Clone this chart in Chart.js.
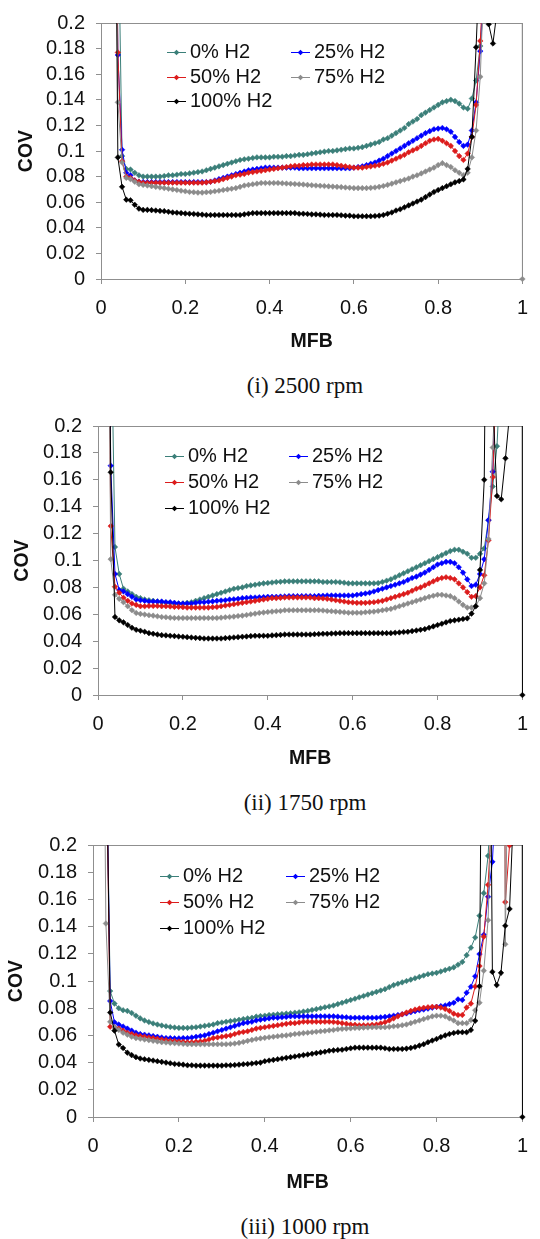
<!DOCTYPE html>
<html>
<head>
<meta charset="utf-8">
<script src="https://cdn.jsdelivr.net/npm/chart.js@4.4.1/dist/chart.umd.min.js"></script>
<style>
  body { margin: 0; background: #fff; }
  #page { position: relative; width: 540px; height: 1239px; overflow: hidden; background: #fff; }
  canvas { position: absolute; left: 0; }
  .caption {
    position: absolute; left: 185px; width: 240px; text-align: center;
    font-family: "Liberation Serif", "Times New Roman", serif; font-size: 23px;
    line-height: 26px; color: #111;
  }
</style>
</head>
<body>
<div id="page">
  <canvas id="c2500"></canvas>
  <div class="caption" style="top:373px">(i) 2500 rpm</div>
  <canvas id="c1750"></canvas>
  <div class="caption" style="top:790px">(ii) 1750 rpm</div>
  <canvas id="c1000"></canvas>
  <div class="caption" style="top:1214px">(iii) 1000 rpm</div>
</div>
<script>
// MFB positions of the samples (one every 0.01)
const mfb = [0.02, 0.03, 0.04, 0.05, 0.06, 0.07, 0.08, 0.09,
  0.10, 0.11, 0.12, 0.13, 0.14, 0.15, 0.16, 0.17, 0.18, 0.19,
  0.20, 0.21, 0.22, 0.23, 0.24, 0.25, 0.26, 0.27, 0.28, 0.29,
  0.30, 0.31, 0.32, 0.33, 0.34, 0.35, 0.36, 0.37, 0.38, 0.39,
  0.40, 0.41, 0.42, 0.43, 0.44, 0.45, 0.46, 0.47, 0.48, 0.49,
  0.50, 0.51, 0.52, 0.53, 0.54, 0.55, 0.56, 0.57, 0.58, 0.59,
  0.60, 0.61, 0.62, 0.63, 0.64, 0.65, 0.66, 0.67, 0.68, 0.69,
  0.70, 0.71, 0.72, 0.73, 0.74, 0.75, 0.76, 0.77, 0.78, 0.79,
  0.80, 0.81, 0.82, 0.83, 0.84, 0.85, 0.86, 0.87, 0.88, 0.89,
  0.90, 0.91, 0.92, 0.93, 0.94, 0.95, 0.96, 0.97, 0.98, 0.99,
  1.00];

const seriesLabels = ['0% H2', '25% H2', '50% H2', '75% H2', '100% H2'];
const seriesColors = ['#3b7f79', '#0000ff', '#dc1c1c', '#8c8c8c', '#000000'];

const xTicks = [0, 0.2, 0.4, 0.6, 0.8, 1];
const xTickLabels = ['0', '0.2', '0.4', '0.6', '0.8', '1'];
const yTicks = [0, 0.02, 0.04, 0.06, 0.08, 0.1, 0.12, 0.14, 0.16, 0.18, 0.2];
const yTickLabels = ['0', '0.02', '0.04', '0.06', '0.08', '0.1', '0.12', '0.14', '0.16', '0.18', '0.2'];

// (i) 2500 rpm  (values above 0.2 run off the top of the plot)
const cov2500_h0 = [null, null, 0.3, 0.096, 0.086, 0.0855, 0.083, 0.081,
  0.080, 0.080, 0.080, 0.080, 0.080, 0.0805, 0.081, 0.081, 0.0815, 0.082,
  0.082, 0.0825, 0.083, 0.0835, 0.084, 0.085, 0.086, 0.087, 0.088, 0.089,
  0.090, 0.091, 0.092, 0.093, 0.0935, 0.094, 0.0945, 0.095, 0.095, 0.095,
  0.095, 0.0955, 0.0955, 0.0955, 0.096, 0.096, 0.0965, 0.097, 0.097, 0.0975,
  0.098, 0.0985, 0.099, 0.0995, 0.100, 0.100, 0.1005, 0.101, 0.1015, 0.102,
  0.102, 0.1025, 0.103, 0.104, 0.105, 0.106, 0.107, 0.109, 0.110, 0.112,
  0.114, 0.116, 0.118, 0.121, 0.123, 0.125, 0.128, 0.130, 0.132, 0.134,
  0.136, 0.138, 0.139, 0.140, 0.139, 0.137, 0.134, 0.133, 0.141, 0.155,
  0.182, 0.22];
const cov2500_h25 = [null, 0.5, 0.175, 0.101, 0.083, 0.081, 0.077, 0.076,
  0.0757, 0.0757, 0.0757, 0.0757, 0.0757, 0.0757, 0.0757, 0.0757, 0.0757, 0.0757,
  0.0757, 0.0757, 0.0757, 0.0757, 0.0757, 0.0757, 0.076, 0.077, 0.078, 0.079,
  0.080, 0.081, 0.082, 0.083, 0.084, 0.085, 0.0855, 0.086, 0.0865, 0.087,
  0.087, 0.087, 0.087, 0.087, 0.087, 0.087, 0.087, 0.0865, 0.0865, 0.0865,
  0.0865, 0.0865, 0.0865, 0.0865, 0.0865, 0.0865, 0.0865, 0.0865, 0.0865, 0.0865,
  0.087, 0.0875, 0.088, 0.089, 0.090, 0.091, 0.0925, 0.094, 0.096, 0.098,
  0.100, 0.102, 0.104, 0.106, 0.108, 0.110, 0.112, 0.114, 0.1155, 0.117,
  0.1175, 0.118, 0.117, 0.115, 0.111, 0.107, 0.104, 0.105, 0.116, 0.138,
  0.178, 0.25];
const cov2500_h50 = [null, 0.5, 0.177, 0.092, 0.080, 0.079, 0.077, 0.076,
  0.0752, 0.0752, 0.0752, 0.0752, 0.0752, 0.0752, 0.0752, 0.0752, 0.0752, 0.0752,
  0.0752, 0.0752, 0.0752, 0.0752, 0.0752, 0.0755, 0.076, 0.0765, 0.077, 0.078,
  0.079, 0.080, 0.081, 0.0815, 0.082, 0.083, 0.0835, 0.084, 0.0845, 0.085,
  0.0855, 0.086, 0.0865, 0.087, 0.0875, 0.088, 0.0885, 0.0885, 0.089, 0.089,
  0.0895, 0.0895, 0.0895, 0.0895, 0.0895, 0.0895, 0.089, 0.0885, 0.088, 0.0875,
  0.087, 0.087, 0.087, 0.0875, 0.088, 0.0885, 0.089, 0.090, 0.091, 0.0925,
  0.094, 0.0955, 0.097, 0.099, 0.1005, 0.102, 0.104, 0.106, 0.108, 0.109,
  0.1095, 0.108, 0.106, 0.104, 0.100, 0.096, 0.093, 0.098, 0.111, 0.136,
  0.186, 0.25];
const cov2500_h75 = [null, 0.5, 0.138, 0.091, 0.079, 0.078, 0.076, 0.074,
  0.0735, 0.073, 0.0725, 0.072, 0.0715, 0.071, 0.0705, 0.070, 0.0695, 0.069,
  0.0685, 0.068, 0.0678, 0.0675, 0.0675, 0.0678, 0.068, 0.0685, 0.069, 0.0695,
  0.070, 0.0705, 0.071, 0.072, 0.073, 0.0735, 0.074, 0.0745, 0.075, 0.075,
  0.075, 0.075, 0.075, 0.0748, 0.0746, 0.0744, 0.0742, 0.074, 0.0738, 0.0735,
  0.0733, 0.073, 0.0728, 0.0726, 0.0724, 0.0722, 0.072, 0.0718, 0.0715, 0.0713,
  0.071, 0.071, 0.071, 0.071, 0.0712, 0.0715, 0.072, 0.0727, 0.0735, 0.0745,
  0.0755, 0.0765, 0.0775, 0.0785, 0.080, 0.081, 0.0825, 0.084, 0.0855, 0.087,
  0.089, 0.0905, 0.089, 0.0875, 0.085, 0.083, 0.081, 0.083, 0.095, 0.116,
  0.158, 0.25, null, null, null, null, null, null, null, 5,
  0];
const cov2500_h100 = [null, 0.5, 0.095, 0.072, 0.062, 0.0615, 0.058, 0.055,
  0.054, 0.054, 0.0538, 0.0535, 0.0532, 0.053, 0.0525, 0.052, 0.0518, 0.0515,
  0.0512, 0.051, 0.0508, 0.0505, 0.0503, 0.050, 0.050, 0.050, 0.050, 0.050,
  0.050, 0.050, 0.050, 0.050, 0.0505, 0.051, 0.0515, 0.0515, 0.0515, 0.0515,
  0.0515, 0.0515, 0.0515, 0.0515, 0.0515, 0.0515, 0.0515, 0.051, 0.051, 0.0508,
  0.0505, 0.0505, 0.0503, 0.050, 0.050, 0.050, 0.050, 0.0498, 0.0495, 0.0495,
  0.049, 0.049, 0.049, 0.049, 0.049, 0.0492, 0.0495, 0.050, 0.051, 0.052,
  0.0535, 0.0545, 0.056, 0.0575, 0.059, 0.0605, 0.062, 0.064, 0.066, 0.068,
  0.0695, 0.071, 0.0725, 0.074, 0.0755, 0.0765, 0.0778, 0.086, 0.111, 0.181,
  0.26, 0.5, 0.199, 0.184, 0.21, 0.5];

// (ii) 1750 rpm
const cov1750_h0 = [null, 0.3, 0.110, 0.090, 0.079, 0.077, 0.075, 0.073,
  0.072, 0.071, 0.0705, 0.070, 0.0695, 0.069, 0.0688, 0.0685, 0.068, 0.068,
  0.068, 0.0685, 0.069, 0.070, 0.071, 0.072, 0.073, 0.074, 0.075, 0.076,
  0.077, 0.078, 0.079, 0.0795, 0.080, 0.081, 0.0815, 0.082, 0.0825, 0.083,
  0.0833, 0.0836, 0.084, 0.0842, 0.0845, 0.0845, 0.0845, 0.0845, 0.0845, 0.0845,
  0.0845, 0.0845, 0.0845, 0.084, 0.084, 0.084, 0.084, 0.0838, 0.0835, 0.083,
  0.083, 0.083, 0.083, 0.083, 0.083, 0.083, 0.0832, 0.084, 0.085, 0.086,
  0.0875, 0.089, 0.0905, 0.092, 0.0935, 0.095, 0.0965, 0.098, 0.0995, 0.101,
  0.1025, 0.104, 0.1055, 0.107, 0.108, 0.108, 0.1065, 0.105, 0.102, 0.102,
  0.105, 0.109, 0.13, 0.155, 0.185, 0.25];
const cov1750_h25 = [0.5, 0.1705, 0.090, 0.078, 0.077, 0.075, 0.073, 0.071,
  0.0705, 0.070, 0.0695, 0.0695, 0.0695, 0.0695, 0.069, 0.069, 0.0685, 0.068,
  0.068, 0.068, 0.068, 0.0685, 0.069, 0.069, 0.0693, 0.0696, 0.070, 0.0703,
  0.0705, 0.071, 0.0712, 0.0715, 0.072, 0.0722, 0.0725, 0.0725, 0.0727, 0.0728,
  0.073, 0.073, 0.073, 0.0732, 0.0733, 0.0735, 0.0735, 0.0735, 0.0735, 0.0735,
  0.0735, 0.0735, 0.0737, 0.0738, 0.074, 0.074, 0.074, 0.074, 0.074, 0.074,
  0.074, 0.0745, 0.075, 0.0755, 0.076, 0.077, 0.078, 0.079, 0.080, 0.081,
  0.082, 0.083, 0.084, 0.0855, 0.087, 0.088, 0.0895, 0.091, 0.093, 0.095,
  0.097, 0.098, 0.099, 0.099, 0.098, 0.095, 0.091, 0.086, 0.081, 0.082,
  0.090, 0.101, 0.130, 0.166, 0.25];
const cov1750_h50 = [0.5, 0.1256, 0.0805, 0.076, 0.0723, 0.070, 0.068, 0.067,
  0.066, 0.066, 0.0662, 0.0662, 0.0662, 0.066, 0.066, 0.0658, 0.0655, 0.0655,
  0.0653, 0.065, 0.065, 0.065, 0.065, 0.065, 0.065, 0.0653, 0.0655, 0.066,
  0.0665, 0.067, 0.0675, 0.068, 0.0685, 0.069, 0.0695, 0.070, 0.0705, 0.071,
  0.0715, 0.072, 0.072, 0.0722, 0.0725, 0.0725, 0.0725, 0.0725, 0.0725, 0.0725,
  0.0725, 0.072, 0.072, 0.0718, 0.0715, 0.071, 0.0705, 0.070, 0.0695, 0.069,
  0.0688, 0.0685, 0.0685, 0.0685, 0.0688, 0.069, 0.0695, 0.070, 0.071, 0.072,
  0.073, 0.074, 0.075, 0.076, 0.0775, 0.079, 0.080, 0.0815, 0.083, 0.0845,
  0.086, 0.087, 0.0875, 0.087, 0.086, 0.083, 0.080, 0.0765, 0.073, 0.0735,
  0.080, 0.089, 0.115, 0.162, 0.25];
const cov1750_h75 = [0.5, 0.101, 0.0745, 0.0715, 0.069, 0.066, 0.063, 0.061,
  0.0603, 0.0598, 0.0593, 0.059, 0.0585, 0.058, 0.0578, 0.0575, 0.0573, 0.0572,
  0.0572, 0.0572, 0.0572, 0.0572, 0.0572, 0.0572, 0.0572, 0.0572, 0.0572, 0.0575,
  0.0578, 0.058, 0.0583, 0.0587, 0.059, 0.0595, 0.060, 0.0605, 0.061, 0.0613,
  0.0617, 0.062, 0.0623, 0.0625, 0.063, 0.063, 0.063, 0.063, 0.063, 0.063,
  0.063, 0.063, 0.063, 0.0628, 0.0625, 0.0623, 0.062, 0.0618, 0.0615, 0.0612,
  0.0612, 0.0612, 0.0612, 0.0615, 0.0618, 0.062, 0.0625, 0.063, 0.0635, 0.064,
  0.065, 0.066, 0.067, 0.068, 0.069, 0.070, 0.071, 0.072, 0.073, 0.0738,
  0.0745, 0.0745, 0.074, 0.0735, 0.072, 0.0695, 0.067, 0.065, 0.065, 0.066,
  0.072, 0.083, 0.116, 0.184, 0.25];
const cov1750_h100 = [0.5, 0.1656, 0.058, 0.0555, 0.054, 0.052, 0.050, 0.0485,
  0.0478, 0.047, 0.046, 0.0455, 0.045, 0.0445, 0.0443, 0.044, 0.0438, 0.0435,
  0.0433, 0.043, 0.0428, 0.0425, 0.0423, 0.042, 0.042, 0.042, 0.042, 0.042,
  0.0423, 0.0425, 0.0428, 0.043, 0.0433, 0.0435, 0.0438, 0.044, 0.044, 0.044,
  0.044, 0.0443, 0.0445, 0.0447, 0.045, 0.045, 0.045, 0.045, 0.045, 0.045,
  0.045, 0.0452, 0.0453, 0.0455, 0.0455, 0.0457, 0.0458, 0.046, 0.046, 0.046,
  0.046, 0.046, 0.046, 0.046, 0.046, 0.046, 0.046, 0.046, 0.046, 0.046,
  0.0463, 0.0465, 0.0468, 0.047, 0.0475, 0.048, 0.0485, 0.049, 0.050, 0.051,
  0.052, 0.053, 0.054, 0.055, 0.0555, 0.056, 0.0565, 0.057, 0.0605, 0.066,
  0.093, 0.16, 0.5, 0.22, 0.148, 0.1455, 0.176, 0.21, 0.5, 5,
  0];

// (iii) 1000 rpm
const cov1000_h0 = [null, 0.3, 0.0926, 0.0834, 0.080, 0.0785, 0.078, 0.0765,
  0.0745, 0.0725, 0.071, 0.0698, 0.0688, 0.068, 0.0673, 0.0667, 0.0662, 0.0658,
  0.0655, 0.0655, 0.0655, 0.0658, 0.066, 0.0665, 0.067, 0.0675, 0.068, 0.069,
  0.0695, 0.070, 0.0705, 0.071, 0.0715, 0.072, 0.0725, 0.073, 0.0738, 0.0742,
  0.0745, 0.075, 0.0752, 0.0755, 0.0757, 0.076, 0.0763, 0.0767, 0.077, 0.0775,
  0.078, 0.0787, 0.0793, 0.080, 0.0807, 0.0813, 0.082, 0.083, 0.084, 0.085,
  0.086, 0.087, 0.088, 0.089, 0.090, 0.091, 0.092, 0.093, 0.094, 0.0955,
  0.097, 0.098, 0.099, 0.100, 0.101, 0.102, 0.103, 0.104, 0.105, 0.1055,
  0.106, 0.107, 0.108, 0.109, 0.110, 0.112, 0.114, 0.119, 0.1245, 0.132,
  0.148, 0.1646, 0.192, 0.25];
const cov1000_h25 = [null, 0.3, 0.0853, 0.0696, 0.068, 0.0665, 0.065, 0.0635,
  0.062, 0.061, 0.0605, 0.060, 0.0595, 0.059, 0.0585, 0.058, 0.058, 0.0578,
  0.0578, 0.058, 0.058, 0.0585, 0.059, 0.0595, 0.060, 0.061, 0.062, 0.063,
  0.064, 0.065, 0.066, 0.067, 0.068, 0.069, 0.0695, 0.070, 0.071, 0.0715,
  0.072, 0.0725, 0.073, 0.073, 0.0733, 0.0735, 0.074, 0.074, 0.074, 0.074,
  0.074, 0.074, 0.074, 0.074, 0.074, 0.074, 0.074, 0.0738, 0.0735, 0.0733,
  0.073, 0.073, 0.073, 0.073, 0.073, 0.073, 0.073, 0.0733, 0.0736, 0.074,
  0.0745, 0.075, 0.0755, 0.0762, 0.077, 0.0778, 0.0785, 0.079, 0.0797, 0.0803,
  0.081, 0.0815, 0.082, 0.083, 0.084, 0.0865, 0.086, 0.0914, 0.0958, 0.1035,
  0.1198, 0.134, 0.162, 0.1876, 0.25];
const cov1000_h50 = [null, 0.3, 0.0664, 0.066, 0.065, 0.0635, 0.062, 0.061,
  0.060, 0.0595, 0.059, 0.0585, 0.058, 0.0575, 0.057, 0.0565, 0.056, 0.0558,
  0.0555, 0.0553, 0.055, 0.055, 0.0553, 0.0555, 0.056, 0.057, 0.058, 0.0585,
  0.059, 0.0595, 0.060, 0.061, 0.062, 0.0625, 0.063, 0.064, 0.065, 0.0655,
  0.066, 0.0665, 0.067, 0.0675, 0.068, 0.0685, 0.069, 0.069, 0.0695, 0.070,
  0.070, 0.070, 0.070, 0.070, 0.070, 0.070, 0.0698, 0.0695, 0.069, 0.0685,
  0.068, 0.0678, 0.0675, 0.0675, 0.0675, 0.0678, 0.068, 0.0688, 0.0697, 0.071,
  0.0725, 0.074, 0.0755, 0.0768, 0.078, 0.079, 0.0797, 0.0803, 0.0807, 0.081,
  0.081, 0.0805, 0.0795, 0.078, 0.076, 0.075, 0.075, 0.0805, 0.0834, 0.096,
  0.111, 0.1326, 0.1707, 0.23, 0.5, 1.0, 0.158, 0.1997, 0.5];
const cov1000_h75 = [0.5, 0.1423, 0.070, 0.066, 0.064, 0.062, 0.0605, 0.059,
  0.058, 0.0575, 0.057, 0.0565, 0.056, 0.0555, 0.055, 0.0548, 0.0545, 0.0543,
  0.054, 0.0538, 0.0535, 0.0535, 0.0535, 0.0535, 0.0535, 0.0535, 0.0535, 0.0535,
  0.0535, 0.0535, 0.0537, 0.054, 0.0545, 0.0552, 0.056, 0.0567, 0.0573, 0.0578,
  0.0582, 0.0586, 0.059, 0.0594, 0.0598, 0.060, 0.0605, 0.061, 0.0613, 0.0617,
  0.062, 0.0623, 0.0627, 0.063, 0.0633, 0.0637, 0.064, 0.0645, 0.0648, 0.065,
  0.0652, 0.0655, 0.0655, 0.0657, 0.0658, 0.066, 0.066, 0.066, 0.066, 0.0663,
  0.0667, 0.067, 0.0675, 0.068, 0.069, 0.070, 0.071, 0.072, 0.073, 0.074,
  0.0745, 0.0745, 0.074, 0.0725, 0.071, 0.069, 0.069, 0.069, 0.0713, 0.0785,
  0.084, 0.1076, 0.1447, 0.25, null, 1.0, 0.127, 0.35];
const cov1000_h100 = [null, 0.3, 0.0768, 0.0635, 0.0533, 0.0507, 0.0473, 0.0455,
  0.044, 0.043, 0.0425, 0.042, 0.0415, 0.041, 0.0405, 0.040, 0.0395, 0.039,
  0.0388, 0.0385, 0.038, 0.038, 0.0378, 0.0378, 0.0378, 0.0378, 0.0378, 0.0378,
  0.0378, 0.038, 0.038, 0.0382, 0.0385, 0.0388, 0.039, 0.0393, 0.0397, 0.040,
  0.041, 0.0415, 0.042, 0.0425, 0.043, 0.0435, 0.044, 0.0445, 0.045, 0.0455,
  0.046, 0.0465, 0.047, 0.0475, 0.048, 0.0487, 0.049, 0.0493, 0.0495, 0.050,
  0.0505, 0.051, 0.051, 0.051, 0.051, 0.051, 0.051, 0.051, 0.0505, 0.050,
  0.050, 0.050, 0.050, 0.0503, 0.0508, 0.0515, 0.0525, 0.0535, 0.055, 0.0562,
  0.0574, 0.0588, 0.060, 0.061, 0.0618, 0.0623, 0.0623, 0.0623, 0.064, 0.0708,
  0.0962, 0.5, 0.5, 0.1067, 0.097, 0.106, 0.1406, 0.153, 0.231, 5,
  0];

const axisColor = '#8f8f8f';
const textColor = '#111111';

Chart.defaults.font.family = '"Liberation Sans", Arial, sans-serif';
Chart.defaults.font.size = 20;
Chart.defaults.color = textColor;

// frame round the plot area, as in the spreadsheet original
const framePlugin = {
  id: 'frame',
  beforeDatasetsDraw(chart) {
    const { ctx, chartArea: a } = chart;
    ctx.save();
    ctx.strokeStyle = axisColor;
    ctx.lineWidth = 1;
    ctx.strokeRect(Math.round(a.left) + 0.5, Math.round(a.top) + 0.5,
      Math.round(a.right - a.left), Math.round(a.bottom - a.top));
    ctx.restore();
  }
};

// two-column legend inside the plot
const insideLegend = {
  id: 'insideLegend',
  afterDatasetsDraw(chart, args, opts) {
    const { ctx, chartArea: a } = chart;
    const w = a.right - a.left, h = a.bottom - a.top;
    ctx.save();
    ctx.font = '20px "Liberation Sans", Arial, sans-serif';
    ctx.textBaseline = 'middle';
    chart.data.datasets.forEach((ds, i) => {
      const x = Math.round(a.left + w * opts.cols[i % 2]);
      const y = Math.round(a.top + h * opts.rows[Math.floor(i / 2)]) + 0.5;
      ctx.strokeStyle = ds.borderColor;
      ctx.fillStyle = ds.borderColor;
      ctx.lineWidth = 1;
      ctx.beginPath();
      ctx.moveTo(x, y);
      ctx.lineTo(x + 19, y);
      ctx.stroke();
      const mx = x + 9.5, r = 2.8;
      ctx.beginPath();
      ctx.moveTo(mx, y - r); ctx.lineTo(mx + r, y); ctx.lineTo(mx, y + r); ctx.lineTo(mx - r, y);
      ctx.closePath();
      ctx.fill();
      ctx.fillStyle = textColor;
      ctx.fillText(ds.label, x + 23, y);
    });
    ctx.restore();
  }
};

function points(values) {
  const pts = [];
  values.forEach((v, i) => { if (v !== null) pts.push({ x: mfb[i], y: v }); });
  return pts;
}

function drawPanel(id, box, series) {
  const canvas = document.getElementById(id);
  const H = Math.round(box.xTitleY - box.top + 16);
  canvas.width = 540;
  canvas.height = H;
  canvas.style.top = box.top + 'px';
  canvas.style.width = '540px';
  canvas.style.height = H + 'px';

  const datasets = series.map((vals, i) => ({
    label: seriesLabels[i],
    data: points(vals),
    borderColor: seriesColors[i],
    backgroundColor: seriesColors[i],
    borderWidth: 1,
    pointStyle: 'rectRot',
    pointRadius: 2.8,
    pointBorderWidth: 0.5,
    pointBackgroundColor: seriesColors[i],
    pointBorderColor: seriesColors[i],
    tension: 0,
    order: series.length - i,
    clip: { left: 6, right: 6, top: 0, bottom: 6 }
  }));

  new Chart(canvas, {
    type: 'line',
    data: { datasets },
    options: {
      responsive: false,
      animation: false,
      events: [],
      layout: { padding: { left: 0, right: 540 - box.right, top: box.plotTop - box.top, bottom: 0 } },
      plugins: {
        legend: { display: false },
        tooltip: { enabled: false },
        insideLegend: { cols: [0.157, 0.45], rows: [0.113, 0.21, 0.306] }
      },
      scales: {
        x: {
          type: 'linear',
          min: 0,
          max: 1,
          afterBuildTicks: scale => { scale.ticks = xTicks.map(v => ({ value: v })); },
          afterFit: scale => { scale.height = H - (box.plotBottom - box.top); },
          ticks: {
            autoSkip: false,
            maxRotation: 0,
            padding: 12,
            color: textColor,
            callback: (value, index) => xTickLabels[index]
          },
          grid: { drawOnChartArea: false, drawTicks: true, tickLength: 5, color: axisColor },
          border: { display: true, color: axisColor },
          title: {
            display: true,
            text: 'MFB',
            color: textColor,
            font: { size: 19.5, weight: 'bold' },
            padding: { top: 0, bottom: H - (box.xTitleY - box.top) - 11.7 }
          }
        },
        y: {
          min: 0,
          max: 0.2,
          afterBuildTicks: scale => { scale.ticks = yTicks.map(v => ({ value: v })); },
          afterFit: scale => { scale.width = box.left; },
          ticks: {
            autoSkip: false,
            padding: 11,
            color: textColor,
            callback: (value, index) => yTickLabels[index]
          },
          grid: { drawOnChartArea: false, drawTicks: true, tickLength: 5, color: axisColor },
          border: { display: true, color: axisColor },
          title: {
            display: true,
            text: 'COV',
            color: textColor,
            font: { size: 19.5, weight: 'bold' },
            padding: { top: box.yTitleX - 11.7, bottom: 0 }
          }
        }
      }
    },
    plugins: [framePlugin, insideLegend]
  });
}

drawPanel('c2500', { top: 0, left: 101, right: 525, plotTop: 14, plotBottom: 279, xTitleY: 342, yTitleX: 26.7 },
  [cov2500_h0, cov2500_h25, cov2500_h50, cov2500_h75, cov2500_h100]);
drawPanel('c1750', { top: 403, left: 98, right: 528, plotTop: 423, plotBottom: 695, xTitleY: 759, yTitleX: 22.4 },
  [cov1750_h0, cov1750_h25, cov1750_h50, cov1750_h75, cov1750_h100]);
drawPanel('c1000', { top: 822, left: 93, right: 533, plotTop: 842, plotBottom: 1117, xTitleY: 1183, yTitleX: 16.4 },
  [cov1000_h0, cov1000_h25, cov1000_h50, cov1000_h75, cov1000_h100]);
</script>
</body>
</html>
